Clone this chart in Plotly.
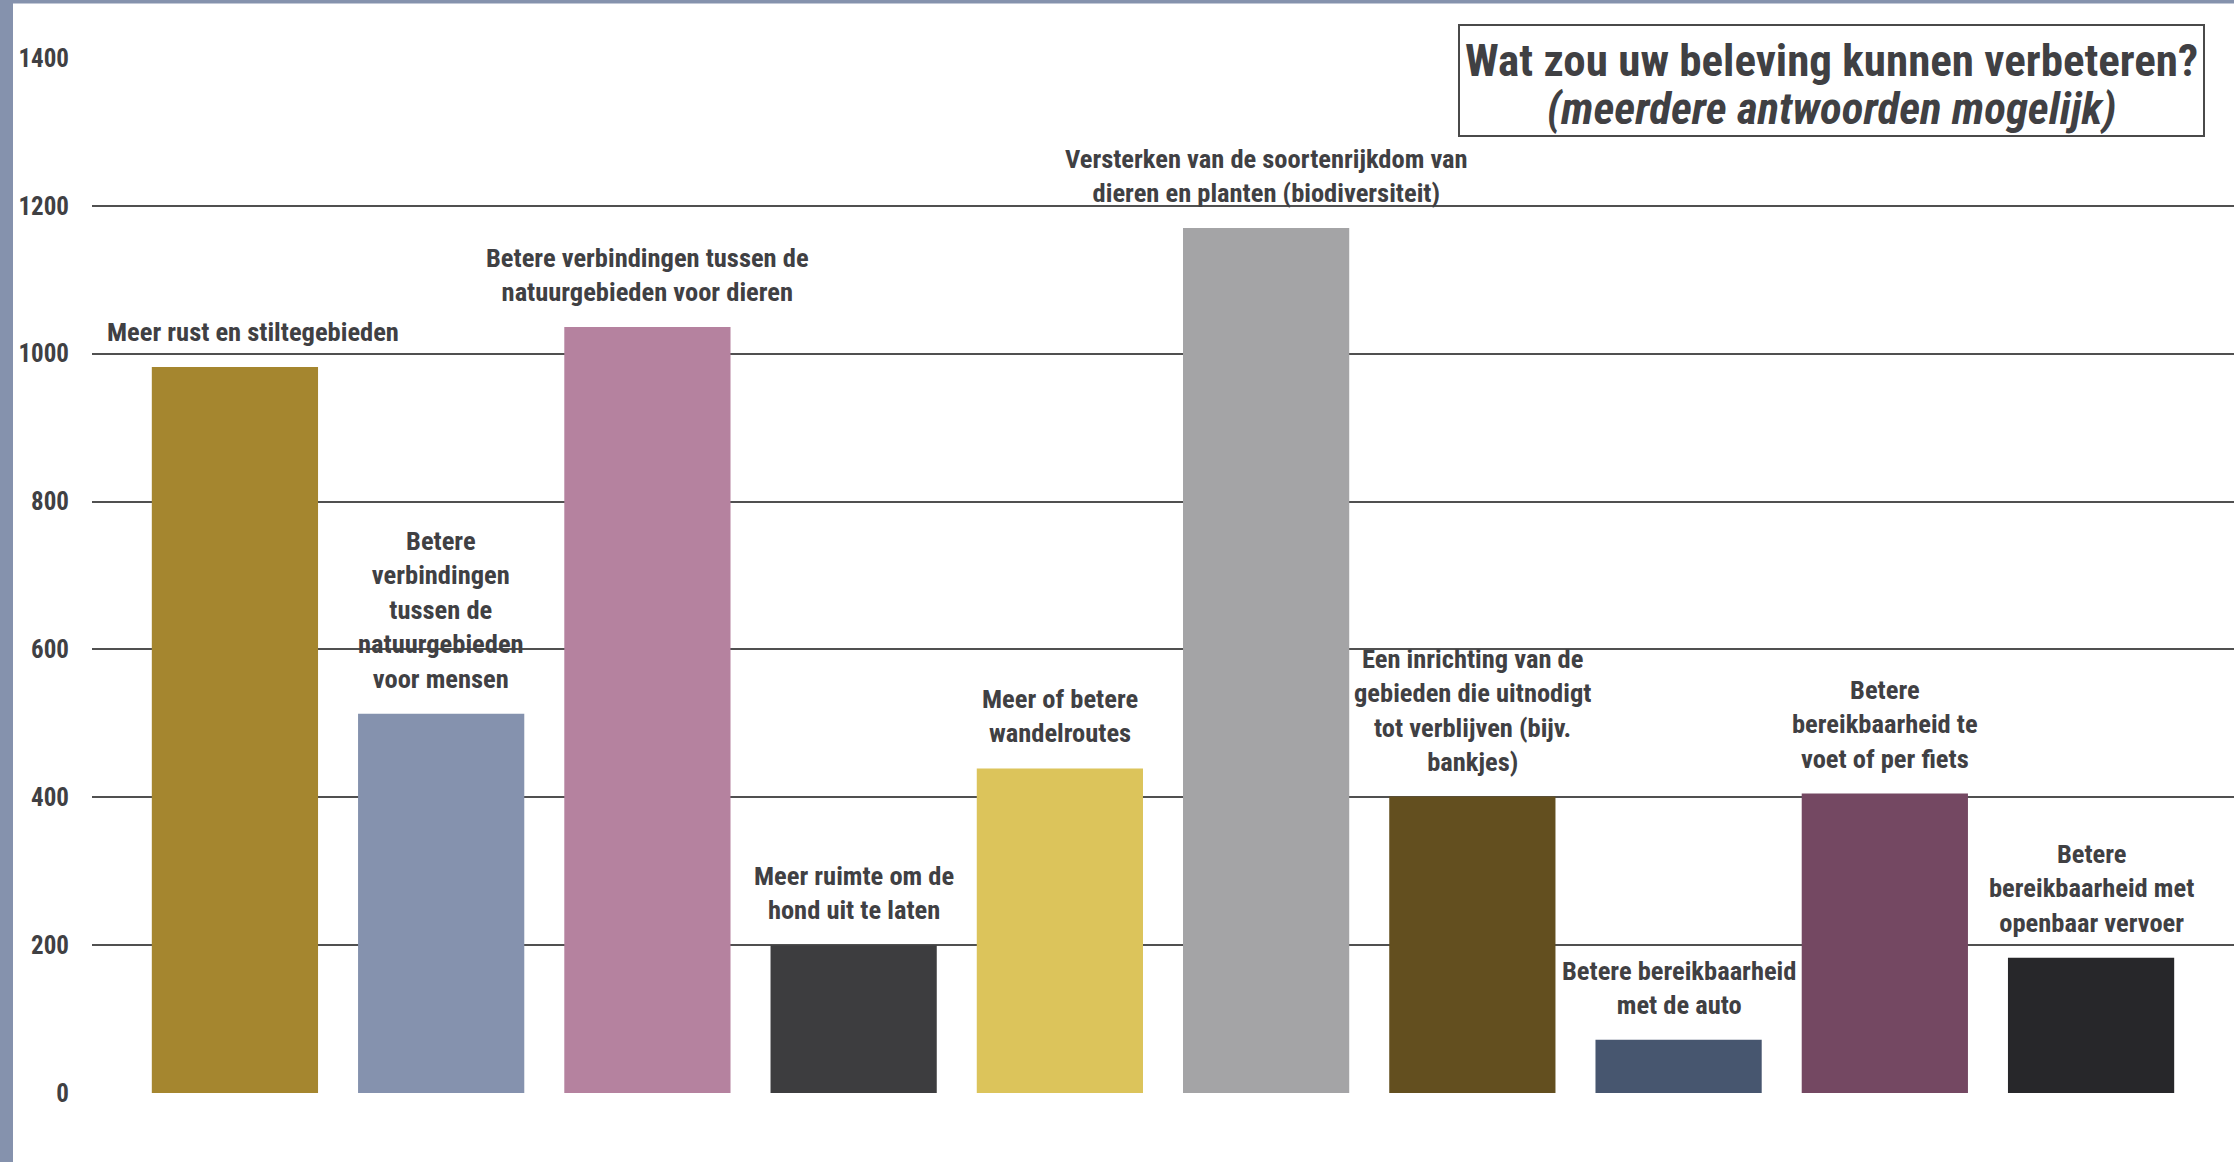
import plotly.graph_objects as go

categories = [
    "Meer rust en stiltegebieden",
    "Betere<br>verbindingen<br>tussen de<br>natuurgebieden<br>voor mensen",
    "Betere verbindingen tussen de<br>natuurgebieden voor dieren",
    "Meer ruimte om de<br>hond uit te laten",
    "Meer of betere<br>wandelroutes",
    "Versterken van de soortenrijkdom van<br>dieren en planten (biodiversiteit)",
    "Een inrichting van de<br>gebieden die uitnodigt<br>tot verblijven (bijv.<br>bankjes)",
    "Betere bereikbaarheid<br>met de auto",
    "Betere<br>bereikbaarheid te<br>voet of per fiets",
    "Betere<br>bereikbaarheid met<br>openbaar vervoer",
]
values = [982, 513, 1036, 200, 439, 1170, 401, 72, 405, 183]
colors = ["#a5862f", "#8592ae", "#b5829f", "#3d3d3f", "#dcc45b",
          "#a4a4a6", "#634f1f", "#47566f", "#744862", "#27272a"]
tick_vals = [0, 200, 400, 600, 800, 1000, 1200]
top_tick = [1400]
title_line1 = "Wat zou uw beleving kunnen verbeteren?"
title_line2 = "(meerdere antwoorden mogelijk)"

FONT = "Liberation Sans Narrow, Arial Narrow, Roboto Condensed, Roboto, sans-serif"
TXT = "#404043"

xs = list(range(len(categories)))

fig = go.Figure()
fig.add_trace(go.Bar(x=xs, y=values, marker=dict(color=colors, line=dict(width=0)),
                     hoverinfo="skip", showlegend=False))

for i, (lab, v) in enumerate(zip(categories, values)):
    fig.add_annotation(x=xs[i], y=v, text="<b>%s</b>" % lab, showarrow=False,
                       xanchor="center", yanchor="bottom", yshift=18,
                       xshift=18 if i == 0 else 0,
                       font=dict(family=FONT, size=26.5, color=TXT), align="center")

W, H = 2234, 1162
ml, mr, mt, mb = 92, 0, 58, 69
pw, ph = W - ml - mr, H - mt - mb

# title box
fig.add_shape(type="rect", xref="paper", yref="paper", layer="above",
              x0=(1459 - ml) / pw, x1=(2204 - ml) / pw,
              y0=1 - (136 - mt) / ph, y1=1 - (25 - mt) / ph,
              fillcolor="white", line=dict(color="#4a4a4a", width=2))
fig.add_annotation(xref="paper", yref="paper", x=(1831 - ml) / pw, y=1 - (61 - mt) / ph,
                   xanchor="center", yanchor="middle", text="<b>%s</b>" % title_line1,
                   showarrow=False, font=dict(family=FONT, size=45, color=TXT))
fig.add_annotation(xref="paper", yref="paper", x=(1831 - ml) / pw, y=1 - (108 - mt) / ph,
                   xanchor="center", yanchor="middle", text="<b><i>%s</i></b>" % title_line2,
                   showarrow=False, font=dict(family=FONT, size=45, color=TXT))

strip = "#8592ad"
fig.add_shape(type="rect", xref="paper", yref="paper", layer="above",
              x0=-ml / pw, x1=(13 - ml) / pw, y0=-mb / ph, y1=1 + mt / ph,
              fillcolor=strip, line=dict(width=0))
fig.add_shape(type="rect", xref="paper", yref="paper", layer="above",
              x0=-ml / pw, x1=1, y0=1 + (mt - 3.5) / ph, y1=1 + mt / ph,
              fillcolor=strip, line=dict(width=0))

tf = dict(family=FONT, size=25, color=TXT, weight="bold")
fig.update_layout(
    width=W, height=H,
    margin=dict(l=ml, r=mr, t=mt, b=mb),
    paper_bgcolor="white", plot_bgcolor="white",
    bargap=0.194,
    xaxis=dict(range=[-0.693, 9.693], showticklabels=False, showgrid=False,
               zeroline=False, ticks="", fixedrange=True),
    yaxis=dict(range=[0, 1400], tickvals=tick_vals, showgrid=True,
               gridcolor="#505050", gridwidth=2, zeroline=False, ticks="",
               ticklabelstandoff=22, tickfont=tf),
    yaxis2=dict(overlaying="y", matches="y", side="left", tickvals=top_tick,
                showgrid=True, gridcolor="#efefef", gridwidth=1.5, zeroline=False,
                ticks="", ticklabelstandoff=22, tickfont=tf),
)
fig.add_trace(go.Scatter(x=[None], y=[None], yaxis="y2", showlegend=False, hoverinfo="skip"))

fig.write_html("out.html", config={"displayModeBar": False},
               post_script="document.body.style.margin='0';document.body.style.overflow='hidden';")
